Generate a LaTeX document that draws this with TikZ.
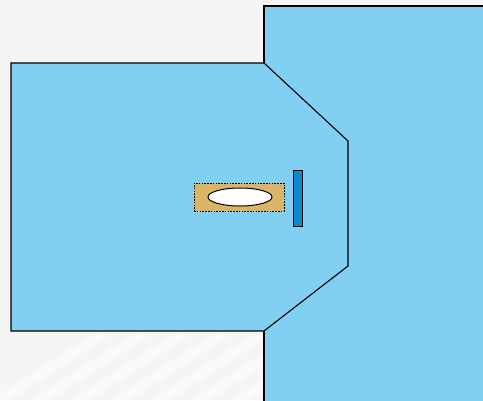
\documentclass[tikz,border=0pt]{standalone}
\usetikzlibrary{shapes.geometric}
\begin{document}
\begin{tikzpicture}[x=1pt,y=-1pt,
  region/.style={fill=skyblue,draw=black,line width=1.1pt},
  tray/.style={fill=tan,draw=black,line width=0.8pt,dash pattern=on 1.6pt off 1.2pt},
  lens/.style={fill=white,draw=black,line width=1pt},
  bar/.style={fill=barblue,draw=black,line width=1pt}]
\definecolor{skyblue}{HTML}{82CFF4}
\definecolor{tan}{HTML}{D9B56A}
\definecolor{barblue}{HTML}{0B8AD0}
\definecolor{bg}{HTML}{F5F5F5}
\useasboundingbox (0,0) rectangle (483,400);
\fill[bg] (0,0) rectangle (483,400);
\begin{scope}
\clip (0,335) rectangle (265,400);
\foreach \k in {0,...,8}{
  \fill[white,opacity=0.5] (-40+\k*40,420) -- (-22+\k*40,420) -- (118+\k*40,330) -- (100+\k*40,330) -- cycle;
}
\end{scope}
\draw[region] (264,402) -- (264,6) -- (486,6) -- (486,402);
\draw[region] (11,63) -- (264,63) -- (348,141) -- (348,266) -- (264,331) -- (11,331) -- cycle;
\node[tray,minimum width=90pt,minimum height=28pt,inner sep=0pt] (tray) at (239,197) {};
\node[lens,ellipse,minimum width=64pt,minimum height=18pt,inner sep=0pt] (lens) at (240,197) {};
\node[bar,minimum width=9pt,minimum height=56pt,inner sep=0pt] (bar) at (297.5,198) {};
\end{tikzpicture}
\end{document}
